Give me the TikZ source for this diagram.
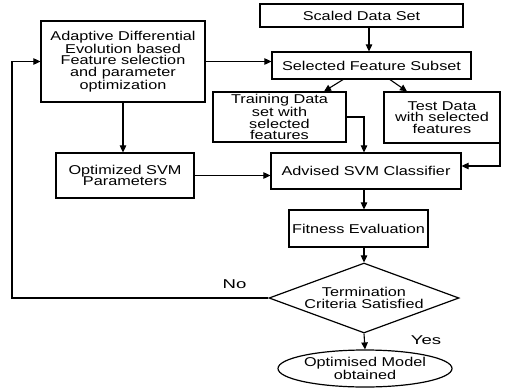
\documentclass[tikz,border=0pt]{standalone}
\usepackage{fontspec}
\usetikzlibrary{arrows.meta,shapes.geometric}
% horizontally extended sans fonts for box texts and branch labels
\font\boxfont="Liberation Sans:extend=1.27" at 12.8pt
\font\lblfont="Liberation Sans:extend=1.45" at 12.8pt
\begin{document}
\begin{tikzpicture}[x=1pt,y=-1pt,
  every node/.style={font=\fontsize{12.8}{11.7}\selectfont\boxfont, align=center, inner sep=0pt},
  blk/.style={draw, line width=1.2pt, rectangle},
  arr/.style={line width=1.1pt, -{Triangle[length=7pt,width=6.5pt]}},
  lbl/.style={font=\lblfont}]
\useasboundingbox (0,0) rectangle (508,388);

% boxes
\node[blk, minimum width=164, minimum height=81] (ade) at (123,61.5)
  {Adaptive Differential\\Evolution based\\Feature selection\\and parameter\\optimization};
\node[blk, minimum width=203, minimum height=23] (scaled) at (361.5,15.5) {Scaled Data Set};
\node[blk, minimum width=199, minimum height=27] (sel) at (371.5,65.5) {Selected Feature Subset};
\node[blk, minimum width=133, minimum height=50] (train) at (279.5,117)
  {Training Data\\set with\\selected\\features};
\node[blk, minimum width=116, minimum height=51] (test) at (442,117.5)
  {Test Data\\with selected\\features};
\node[blk, minimum width=138, minimum height=45] (opt) at (125,175.5)
  {Optimized SVM\\Parameters};
\node[blk, minimum width=190, minimum height=36] (adv) at (366,171) {Advised SVM Classifier};
\node[blk, minimum width=139, minimum height=37] (fit) at (358.5,228.5) {Fitness Evaluation};
\node[draw, line width=1.2pt, diamond, aspect=2.7, minimum width=190, minimum height=70] (dec) at (364,298)
  {Termination\\Criteria Satisfied};
\node[draw, line width=1.2pt, ellipse, minimum width=174, minimum height=37] (res) at (365,368.5)
  {Optimised Model\\obtained};

% branch labels
\node[lbl] (no) at (234.5,284) {No};
\node[lbl] (yes) at (426,340) {Yes};

% connectors
\coordinate (loop) at (12,298);
\draw[arr] (dec.west) -- (dec.west -| loop) |- (ade.west);
\draw[arr] (ade.east) -- (ade.east -| sel.west);
\draw[arr] ([xshift=7.5]scaled.south) -- ([xshift=7.5]scaled.south |- sel.north);
\draw[arr] ([xshift=-28.5]sel.south) -- ([xshift=44.5]train.north);
\draw[arr] ([xshift=18.5]sel.south) -- ([xshift=-35]test.north);
\draw[arr] (train.east) -| ([xshift=-2]adv.north);
\draw[arr] ([xshift=-0.6]test.south east) |- ([yshift=5]adv.east);
\draw[arr] (ade.south) -- (ade.south |- opt.north);
\draw[arr] (opt.east) -- (opt.east -| adv.west);
\draw[arr] ([xshift=-2]adv.south) -- ([xshift=-2]adv.south |- fit.north);
\draw[arr] (fit.south -| dec.north) -- (dec.north);
\draw[arr] (dec.south) -- (res.north);
\end{tikzpicture}
\end{document}
